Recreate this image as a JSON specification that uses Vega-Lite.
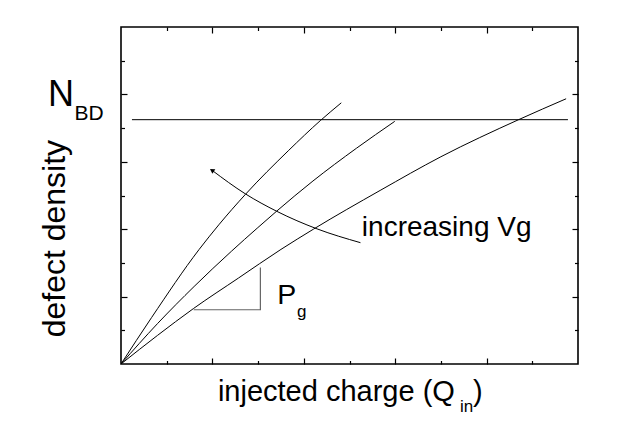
{
  "$schema": "https://vega.github.io/schema/vega-lite/v6.json",
  "autosize": "none",
  "width": 457,
  "height": 337,
  "padding": {"left": 121, "top": 27, "right": 43, "bottom": 60},
  "background": "white",
  "config": {
    "view": {"stroke": "black", "strokeWidth": 1.6},
    "axis": {"domain": false, "labels": false, "title": null, "grid": false, "ticks": true, "tickColor": "black", "tickWidth": 1.2},
    "text": {"font": "Liberation Sans", "color": "black"}
  },
  "datasets": {
    "curves": [
      {"s": "c1", "o": 0, "x": 0, "y": 0},
      {"s": "c1", "o": 1, "x": 0.67, "y": 1.38},
      {"s": "c1", "o": 2, "x": 1.71, "y": 3.4},
      {"s": "c1", "o": 3, "x": 2.14, "y": 4.13},
      {"s": "c1", "o": 4, "x": 2.72, "y": 5.03},
      {"s": "c1", "o": 5, "x": 3.67, "y": 6.34},
      {"s": "c1", "o": 6, "x": 4.36, "y": 7.22},
      {"s": "c1", "o": 7, "x": 4.82, "y": 7.75},
      {"s": "c2", "o": 0, "x": 0, "y": 0},
      {"s": "c2", "o": 1, "x": 0.8, "y": 1.2},
      {"s": "c2", "o": 2, "x": 1.6, "y": 2.3},
      {"s": "c2", "o": 3, "x": 2.42, "y": 3.35},
      {"s": "c2", "o": 4, "x": 2.98, "y": 4.03},
      {"s": "c2", "o": 5, "x": 3.41, "y": 4.54},
      {"s": "c2", "o": 6, "x": 4.2, "y": 5.43},
      {"s": "c2", "o": 7, "x": 5.15, "y": 6.4},
      {"s": "c2", "o": 8, "x": 5.99, "y": 7.2},
      {"s": "c3", "o": 0, "x": 0, "y": 0},
      {"s": "c3", "o": 1, "x": 0.8, "y": 0.85},
      {"s": "c3", "o": 2, "x": 1.59, "y": 1.65},
      {"s": "c3", "o": 3, "x": 2.57, "y": 2.55},
      {"s": "c3", "o": 4, "x": 3.5, "y": 3.4},
      {"s": "c3", "o": 5, "x": 4.21, "y": 4.0},
      {"s": "c3", "o": 6, "x": 5.67, "y": 5.15},
      {"s": "c3", "o": 7, "x": 7.0, "y": 6.15},
      {"s": "c3", "o": 8, "x": 8.7, "y": 7.25},
      {"s": "c3", "o": 9, "x": 9.74, "y": 7.87}
    ],
    "hline": [
      {"o": 0, "x": 0.24, "y": 7.25},
      {"o": 1, "x": 9.78, "y": 7.25}
    ],
    "arrow": [
      {"o": 0, "x": 5.24, "y": 3.6},
      {"o": 1, "x": 4.29, "y": 4.01},
      {"o": 2, "x": 3.41, "y": 4.53},
      {"o": 3, "x": 2.72, "y": 5.05},
      {"o": 4, "x": 1.99, "y": 5.75}
    ],
    "head": [
      {"x": 1.99, "y": 5.75}
    ],
    "tri": [
      {"o": 0, "x": 1.59, "y": 1.61},
      {"o": 1, "x": 3.05, "y": 1.61},
      {"o": 2, "x": 3.05, "y": 2.86}
    ],
    "labels": [
      {"t": "N", "x": -1.6, "y": 7.65, "fs": 36},
      {"t": "BD", "x": -1.02, "y": 7.25, "fs": 21},
      {"t": "increasing Vg", "x": 5.27, "y": 3.81, "fs": 28},
      {"t": "P", "x": 3.42, "y": 1.77, "fs": 28.5},
      {"t": "g", "x": 3.85, "y": 1.38, "fs": 17},
      {"t": "injected charge (Q", "x": 2.12, "y": -1.1, "fs": 29},
      {"t": "in", "x": 7.42, "y": -1.42, "fs": 17},
      {"t": ")", "x": 7.7, "y": -1.1, "fs": 29}
    ],
    "ylabel": [
      {"t": "defect density", "x": -1.22, "y": 3.72}
    ]
  },
  "resolve": {"axis": {"x": "independent", "y": "independent"}},
  "layer": [
    {
      "data": {"name": "curves"},
      "mark": {"type": "line", "color": "black", "strokeWidth": 1, "interpolate": "monotone", "clip": true},
      "encoding": {
        "x": {"field": "x", "type": "quantitative", "scale": {"domain": [0, 10], "nice": false, "zero": false},
              "axis": {"orient": "bottom", "values": [2, 4, 6, 8], "tickSize": -6}},
        "y": {"field": "y", "type": "quantitative", "scale": {"domain": [0, 10], "nice": false, "zero": false},
              "axis": {"orient": "left", "values": [2, 4, 6, 8], "tickSize": -6}},
        "detail": {"field": "s"},
        "order": {"field": "o"}
      }
    },
    {
      "data": {"name": "hline"},
      "mark": {"type": "line", "color": "black", "strokeWidth": 1},
      "encoding": {
        "x": {"field": "x", "type": "quantitative", "scale": {"domain": [0, 10], "nice": false, "zero": false},
              "axis": {"orient": "top", "values": [2, 4, 6, 8], "tickSize": -6}},
        "y": {"field": "y", "type": "quantitative", "scale": {"domain": [0, 10], "nice": false, "zero": false},
              "axis": {"orient": "right", "values": [2, 4, 6, 8], "tickSize": -6}},
        "order": {"field": "o"}
      }
    },
    {
      "data": {"name": "arrow"},
      "mark": {"type": "line", "color": "black", "strokeWidth": 1, "interpolate": "monotone"},
      "encoding": {
        "x": {"field": "x", "type": "quantitative", "scale": {"domain": [0, 10], "nice": false, "zero": false},
              "axis": {"orient": "bottom", "values": [1, 3, 5, 7, 9], "tickSize": -3.5}},
        "y": {"field": "y", "type": "quantitative", "scale": {"domain": [0, 10], "nice": false, "zero": false},
              "axis": {"orient": "left", "values": [1, 3, 5, 7, 9], "tickSize": -3.5}},
        "order": {"field": "o"}
      }
    },
    {
      "data": {"name": "tri"},
      "mark": {"type": "line", "color": "#666666", "strokeWidth": 1.2},
      "encoding": {
        "x": {"field": "x", "type": "quantitative", "scale": {"domain": [0, 10], "nice": false, "zero": false},
              "axis": {"orient": "top", "values": [1, 3, 5, 7, 9], "tickSize": -3.5}},
        "y": {"field": "y", "type": "quantitative", "scale": {"domain": [0, 10], "nice": false, "zero": false},
              "axis": {"orient": "right", "values": [1, 3, 5, 7, 9], "tickSize": -3.5}},
        "order": {"field": "o"}
      }
    },
    {
      "data": {"name": "head"},
      "mark": {"type": "point", "shape": "triangle-up", "filled": true, "color": "black", "size": 28, "angle": 303, "opacity": 1},
      "encoding": {
        "x": {"field": "x", "type": "quantitative", "scale": {"domain": [0, 10], "nice": false, "zero": false}, "axis": null},
        "y": {"field": "y", "type": "quantitative", "scale": {"domain": [0, 10], "nice": false, "zero": false}, "axis": null}
      }
    },
    {
      "data": {"name": "labels"},
      "mark": {"type": "text", "align": "left", "baseline": "alphabetic"},
      "encoding": {
        "x": {"field": "x", "type": "quantitative", "scale": {"domain": [0, 10], "nice": false, "zero": false}, "axis": null},
        "y": {"field": "y", "type": "quantitative", "scale": {"domain": [0, 10], "nice": false, "zero": false}, "axis": null},
        "text": {"field": "t"},
        "size": {"field": "fs", "type": "quantitative", "scale": null}
      }
    },
    {
      "data": {"name": "ylabel"},
      "mark": {"type": "text", "align": "center", "baseline": "alphabetic", "angle": 270, "fontSize": 32},
      "encoding": {
        "x": {"field": "x", "type": "quantitative", "scale": {"domain": [0, 10], "nice": false, "zero": false}, "axis": null},
        "y": {"field": "y", "type": "quantitative", "scale": {"domain": [0, 10], "nice": false, "zero": false}, "axis": null},
        "text": {"field": "t"}
      }
    }
  ]
}
